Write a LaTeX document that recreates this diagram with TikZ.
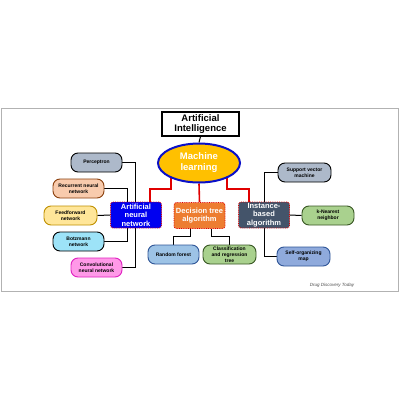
\documentclass[tikz,border=0pt]{standalone}
\usepackage{fontspec}
\setmainfont{Liberation Sans}
\usetikzlibrary{shapes.geometric,backgrounds}
\definecolor{mlgold}{HTML}{FFC000}
\definecolor{mlblue}{HTML}{0A10C8}
\definecolor{anblue}{HTML}{0000F0}
\definecolor{dtorange}{HTML}{ED7D31}
\definecolor{ibslate}{HTML}{44546A}
\definecolor{gslate}{HTML}{ADB9CA}
\definecolor{peach}{HTML}{F8CBAD}
\definecolor{peachb}{HTML}{C55A11}
\definecolor{lyellow}{HTML}{FFE699}
\definecolor{lyellowb}{HTML}{BF9000}
\definecolor{lcyan}{HTML}{9DE3F8}
\definecolor{lpink}{HTML}{FF99E8}
\definecolor{pinkb}{HTML}{E020C0}
\definecolor{lblue}{HTML}{9DC3E6}
\definecolor{lblueb}{HTML}{2F5597}
\definecolor{lgreen}{HTML}{A9D18E}
\definecolor{lgreenb}{HTML}{385723}
\definecolor{sblue}{HTML}{8FAADC}
\definecolor{redl}{HTML}{E00000}
\tikzset{
  pill/.style={draw=black, line width=0.9pt, rounded corners=7pt, minimum width=#1, minimum height=19pt, inner sep=1pt, align=center, font=\bfseries\fontsize{5}{6}\selectfont},
  pill/.default=51pt,
  algbox/.style={draw=redl, densely dotted, line width=0.8pt, rounded corners=2.5pt, minimum width=51pt, minimum height=26pt, inner sep=1pt, align=center, text=white, font=\bfseries\fontsize{7.5}{8.6}\selectfont},
  blk/.style={draw=black, line width=1pt},
  redc/.style={draw=redl, line width=1.6pt},
}
\begin{document}
\begin{tikzpicture}[x=1pt,y=-1pt]
\useasboundingbox (0,0) rectangle (400,400);

% nodes
\node[draw=black, line width=1.2pt, fill=white, minimum width=77pt, minimum height=24pt, inner sep=0pt, align=center, font=\bfseries\fontsize{9.5}{10.5}\selectfont] (ai) at (200.5,124) {Artificial\\Intelligence};
\node[ellipse, draw=mlblue, line width=2pt, fill=mlgold, minimum width=82pt, minimum height=39pt, inner sep=0pt, align=center, text=white, font=\bfseries\fontsize{9.5}{11}\selectfont] (ml) at (199,163) {Machine\\learning};

\node[algbox, fill=anblue] (ann) at (136,215) {Artificial\\neural\\network};
\node[algbox, fill=dtorange] (dt) at (199.5,215.5) {Decision tree\\algorithm};
\node[algbox, fill=ibslate] (ib) at (264,215) {Instance-\\based\\algorithm};

\node[pill, fill=gslate] (per) at (96.5,162.5) {Perceptron};
\node[pill, fill=peach, draw=peachb!70!black] (rnn) at (78.5,188.5) {Recurrent neural\\network};
\node[pill=53pt, fill=lyellow, draw=lyellowb] (ff) at (70.5,215.5) {Feedforward\\network};
\node[pill, fill=lcyan] (bz) at (78.5,241.5) {Botzmann\\network};
\node[pill, fill=lpink, draw=pinkb] (cnn) at (96.5,267.5) {Convolutional\\neural network};

\node[pill, fill=lblue, draw=lblueb] (rf) at (173.5,254.5) {Random forest};
\node[pill=53pt, fill=lgreen, draw=lgreenb] (cart) at (229.5,254.5) {Classification\\and regression\\tree};

\node[pill=53pt, fill=gslate] (svm) at (304.5,172.5) {Support vector\\machine};
\node[pill=52pt, fill=lgreen, draw=lgreenb] (knn) at (328,215.5) {k-Nearest\\neighbor};
\node[pill=53pt, fill=sblue, draw=lblueb] (som) at (303.5,256.5) {Self-organizing\\map};

\node[font=\itshape\fontsize{4.5}{5}\selectfont, text=black!70] (wm) at (332,285) {Drug Discovery Today};

\coordinate (r1) at (150,189);
\coordinate (r2) at (249,189);
\coordinate (c0) at (135,0);
\coordinate (c1) at (127,0);
\coordinate (d1) at (190,236);
\coordinate (d2) at (211,236);
\coordinate (i1) at (264,0);

\begin{scope}[on background layer]
\fill[white] (0,0) rectangle (400,400);
\draw[gray!60, line width=0.7pt] (1,108) rectangle (398,291);
% connectors
\draw[blk] (ai.south) -- (ml.north);
\draw[redc] (ml.209) |- (r1) -- (r1 |- ann.north);
\draw[redc] (ml.south) -- (dt.north);
\draw[redc] (ml.-29) |- (r2) -- (r2 |- ib.north);
\draw[blk] (per.east) -| (c0 |- cnn.east) -- (cnn.east);
\draw[blk] (rnn.east) -| (c1 |- ann.north);
\draw[blk] (bz.east) -| (c1 |- ann.south);
\draw[blk] (ff.east) -- (ann.west);
\draw[blk] (dt.south -| d1) -- (d1) -| (rf.north);
\draw[blk] (dt.south -| d2) -- (d2) -| (cart.north);
\draw[blk] (svm.west) -| (i1 |- som.west) -- (som.west);
\draw[blk] (ib.east) -- (knn.west);
\end{scope}
\end{tikzpicture}
\end{document}
